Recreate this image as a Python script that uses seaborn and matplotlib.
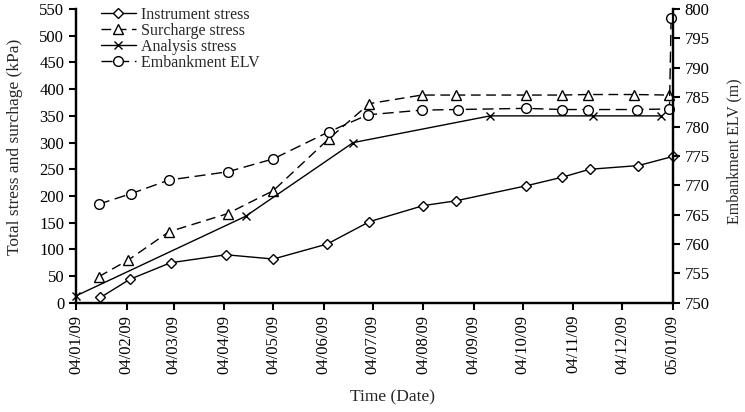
import matplotlib

matplotlib.use("Agg")
import matplotlib.dates as mdates
import matplotlib.pyplot as plt
import numpy as np
import pandas as pd
import seaborn as sns

# Values
instrument_dates = [
    "2004-01-24", "2004-02-11", "2004-03-07", "2004-04-10", "2004-05-09",
    "2004-06-11", "2004-07-07", "2004-08-09", "2004-08-29", "2004-10-11",
    "2004-11-02", "2004-11-19", "2004-12-19", "2005-01-09",
]
instrument_stress = [10, 44, 75, 90, 82, 110, 152, 182, 191, 219, 235, 250, 257, 274]

surcharge_dates = [
    "2004-01-23", "2004-02-10", "2004-03-06", "2004-04-11", "2004-05-09",
    "2004-06-12", "2004-07-07", "2004-08-08", "2004-08-29", "2004-10-11",
    "2004-11-02", "2004-11-18", "2004-12-16", "2005-01-07",
]
surcharge_stress = [49, 80, 133, 167, 210, 307, 373, 389, 389, 389, 389, 390, 390, 389]

analysis_dates = [
    "2004-01-09", "2004-04-22", "2004-06-27", "2004-09-19", "2004-11-21", "2005-01-02",
]
analysis_stress = [13, 162, 300, 350, 350, 350]

elv_dates = [
    "2004-01-23", "2004-02-12", "2004-03-06", "2004-04-11", "2004-05-09",
    "2004-06-12", "2004-07-06", "2004-08-08", "2004-08-30", "2004-10-11",
    "2004-11-02", "2004-11-18", "2004-12-18", "2005-01-07", "2005-01-08",
]
embankment_elv = [
    766.8, 768.6, 770.9, 772.3, 774.5, 779.1, 782.0, 782.8, 782.9, 783.1,
    782.9, 782.9, 782.9, 783.0, 798.5,
]

sns.set_style("ticks")
plt.rcParams["font.family"] = ["Liberation Serif", "DejaVu Serif"]
plt.rcParams["font.size"] = 12

figure = plt.figure(figsize=(7.45, 4.12), dpi=100)
axis = figure.add_axes([0.102, 0.265, 0.801, 0.713])
right_axis = axis.twinx()

common = dict(color="black", linewidth=1.0, markerfacecolor="white",
              markeredgecolor="black", markeredgewidth=1.0, estimator=None)

sns.lineplot(x=pd.to_datetime(instrument_dates), y=instrument_stress, marker="D",
             markersize=5, label="Instrument stress", ax=axis, **common)
sns.lineplot(x=pd.to_datetime(surcharge_dates), y=surcharge_stress, marker="^",
             markersize=7, linestyle=(0, (7, 4)), label="Surcharge stress",
             ax=axis, **common)
sns.lineplot(x=pd.to_datetime(analysis_dates), y=analysis_stress, marker="x",
             markersize=6, label="Analysis stress", ax=axis, **common)
sns.lineplot(x=pd.to_datetime(elv_dates), y=embankment_elv, marker="o",
             markersize=7, linestyle=(0, (8, 4)), label="Embankment ELV",
             ax=right_axis, **common)

for a in (axis, right_axis):
    if a.get_legend() is not None:
        a.get_legend().remove()
    for line in a.get_lines():
        line.set_clip_on(False)

axis.set_xlim(pd.Timestamp("2004-01-09"), pd.Timestamp("2005-01-09"))
axis.xaxis.set_major_locator(mdates.MonthLocator(bymonthday=9))
axis.xaxis.set_major_formatter(mdates.DateFormatter("%y/%m/%d"))
axis.tick_params(axis="x", labelrotation=90)

axis.set_ylim(0, 550)
axis.set_yticks(np.arange(0, 551, 50))
right_axis.set_ylim(750, 800)
right_axis.set_yticks(np.arange(750, 801, 5))

axis.set_xlabel("Time (Date)", fontsize=12.5)
axis.set_ylabel("Total stress and surchage (kPa)", fontsize=12.5)
right_axis.set_ylabel("Embankment ELV (m)", fontsize=11.5)
axis.xaxis.set_label_coords(0.53, -0.295)
axis.yaxis.set_label_coords(-0.088, 0.53)
right_axis.yaxis.set_label_coords(1.09, 0.515)

for a in (axis, right_axis):
    a.spines["top"].set_visible(False)
    for side in ("left", "right", "bottom"):
        a.spines[side].set_linewidth(1.6)
        a.spines[side].set_color("black")
    a.tick_params(direction="out", length=5, width=1.5, colors="black",
                  labelsize=12)

handles, labels = axis.get_legend_handles_labels()
right_handles, right_labels = right_axis.get_legend_handles_labels()
axis.legend(handles + right_handles, labels + right_labels, loc="upper left",
            bbox_to_anchor=(0.028, 1.035), frameon=False, fontsize=11.5,
            handlelength=2.2, handletextpad=0.3, labelspacing=0.0,
            borderpad=0)

figure.savefig("out.png", dpi=100)
